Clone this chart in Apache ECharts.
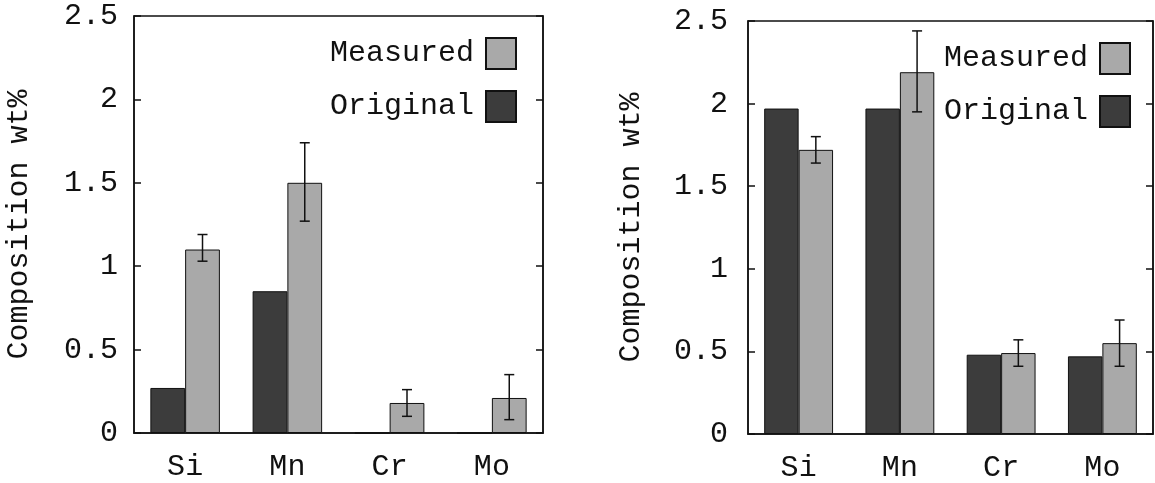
<!DOCTYPE html>
<html>
<head>
<meta charset="utf-8">
<script src="https://cdn.jsdelivr.net/npm/echarts@6/dist/echarts.min.js"></script>
<style>
html, body { margin: 0; padding: 0; background: #fff; }
#chart { width: 1155px; height: 483px; }
</style>
</head>
<body>
<div id="chart"></div>
<script>
// elements on the x axis
const categories = ['Si', 'Mn', 'Cr', 'Mo'];
const legendNames = ['Measured', 'Original'];

// left panel
const originalA = [0.27, 0.85, 0, 0];
const measuredA = [1.10, 1.50, 0.18, 0.21];
const errLowA = [1.03, 1.27, 0.10, 0.08];
const errHighA = [1.19, 1.74, 0.26, 0.35];

// right panel
const originalB = [1.97, 1.97, 0.48, 0.47];
const measuredB = [1.72, 2.19, 0.49, 0.55];
const errLowB = [1.64, 1.95, 0.41, 0.41];
const errHighB = [1.80, 2.44, 0.57, 0.69];

const yMin = 0, yMax = 2.5, yStep = 0.5;

const FONT = "'Liberation Mono', 'Courier New', monospace";
const FS = 30;
const GAP = 0.32;
const darkGray = '#3c3c3c';
const lightGray = '#a9a9a9';

function xAxisFor(gi) {
    return {
        type: 'category', gridIndex: gi, data: categories,
        axisTick: { show: false },
        axisLine: { lineStyle: { color: '#111', width: 1.5 } },
        axisLabel: { fontFamily: FONT, fontSize: FS, color: '#111', margin: 19 }
    };
}

function yAxisFor(gi, side, nameGap, labelMargin) {
    const ax = {
        type: 'value', gridIndex: gi, position: side,
        min: yMin, max: yMax, interval: yStep,
        splitLine: { show: false },
        axisLine: { show: true, lineStyle: { color: '#111', width: 1.5 } },
        axisTick: { show: true, inside: true, length: 7, lineStyle: { color: '#111', width: 1.5 } },
        axisLabel: { show: side === 'left', fontFamily: FONT, fontSize: FS, color: '#111', margin: labelMargin }
    };
    if (side === 'left') {
        ax.name = 'Composition wt%';
        ax.nameLocation = 'middle';
        ax.nameGap = nameGap;
        ax.nameTextStyle = { fontFamily: FONT, fontSize: FS, color: '#111' };
    }
    return ax;
}

function bar(name, data, gi, color) {
    return {
        name: name, type: 'bar', xAxisIndex: gi, yAxisIndex: gi * 2, data: data,
        barGap: '0%', barCategoryGap: (GAP * 100) + '%',
        itemStyle: { color: color, borderColor: '#111', borderWidth: 1 },
        emphasis: { disabled: true }
    };
}

function errorBars(gi, low, high) {
    return {
        type: 'custom', xAxisIndex: gi, yAxisIndex: gi * 2, z: 10,
        data: low.map((l, i) => [i, l, high[i]]),
        renderItem: function (params, api) {
            const i = api.value(0);
            const lo = api.coord([i, api.value(1)]);
            const hi = api.coord([i, api.value(2)]);
            const band = api.size([1, 0])[0];
            const x = lo[0] + band * (1 - GAP) / 4;
            const cap = 5;
            const st = { stroke: '#111', lineWidth: 1.5 };
            return {
                type: 'group', children: [
                    { type: 'line', shape: { x1: x, y1: lo[1], x2: x, y2: hi[1] }, style: st },
                    { type: 'line', shape: { x1: x - cap, y1: lo[1], x2: x + cap, y2: lo[1] }, style: st },
                    { type: 'line', shape: { x1: x - cap, y1: hi[1], x2: x + cap, y2: hi[1] }, style: st }
                ]
            };
        }
    };
}

function legendFor(right, top) {
    return {
        data: legendNames, orient: 'vertical', align: 'right',
        right: right, top: top, padding: 0,
        icon: 'rect',
        itemWidth: 30, itemHeight: 31, itemGap: 20,
        selectedMode: false,
        textStyle: { fontFamily: FONT, fontSize: FS, color: '#111', padding: [0, 7, 0, 0] }
    };
}

const chart = echarts.init(document.getElementById('chart'), null, { renderer: 'canvas' });
chart.setOption({
    animation: false,
    backgroundColor: '#fff',
    grid: [
        { left: 134, top: 16, width: 409, height: 417, show: true, borderColor: '#111', borderWidth: 1.5 },
        { left: 748, top: 21, width: 405, height: 413, show: true, borderColor: '#111', borderWidth: 1.5 }
    ],
    legend: [legendFor(1155 - 517, 37), legendFor(1155 - 1131, 42)],
    xAxis: [xAxisFor(0), xAxisFor(1)],
    yAxis: [
        yAxisFor(0, 'left', 100, 16), yAxisFor(0, 'right', 0, 0),
        yAxisFor(1, 'left', 102, 20), yAxisFor(1, 'right', 0, 0)
    ],
    series: [
        bar('Original', originalA, 0, darkGray),
        bar('Measured', measuredA, 0, lightGray),
        errorBars(0, errLowA, errHighA),
        bar('Original', originalB, 1, darkGray),
        bar('Measured', measuredB, 1, lightGray),
        errorBars(1, errLowB, errHighB)
    ]
});
</script>
</body>
</html>
